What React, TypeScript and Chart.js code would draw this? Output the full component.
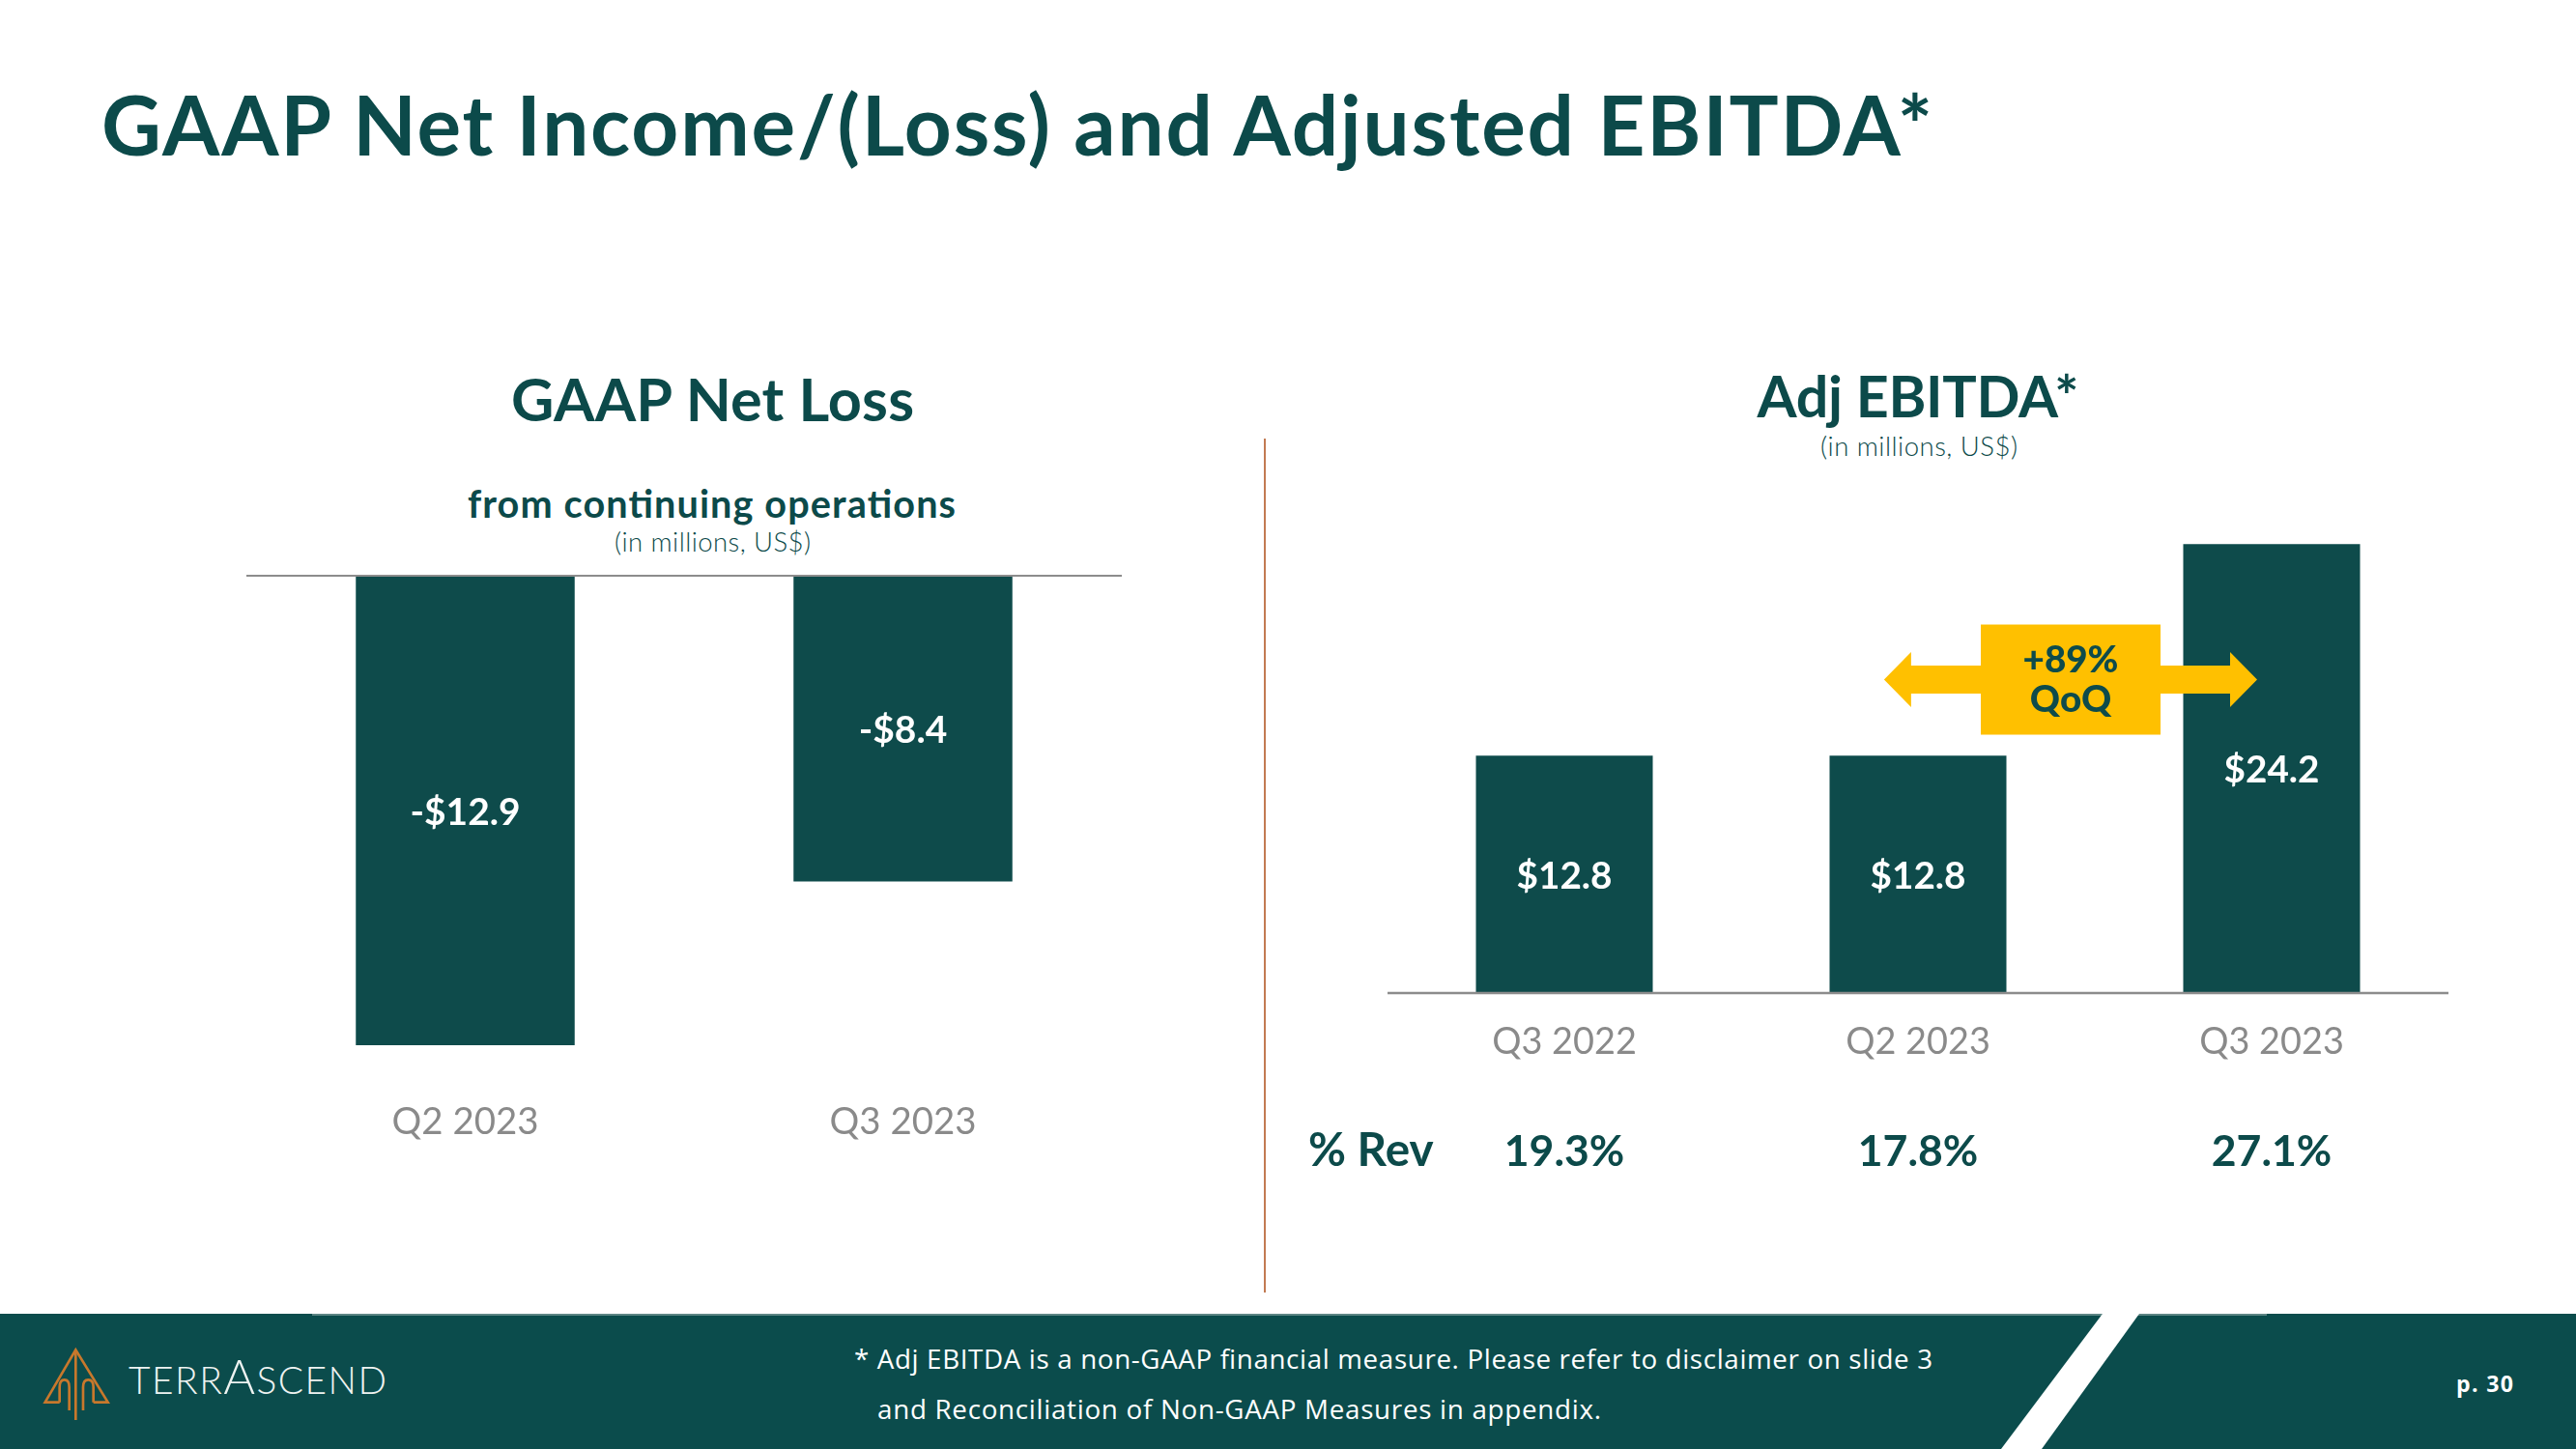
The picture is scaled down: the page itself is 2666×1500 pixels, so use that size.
import React, { useEffect, useRef } from 'react';
import { Chart, registerables } from 'chart.js';

Chart.register(...registerables);

// ---------- data ----------
const lossCategories = ['Q2 2023', 'Q3 2023'];
const lossValues = [-12.9, -8.4];
const ebitdaCategories = ['Q3 2022', 'Q2 2023', 'Q3 2023'];
const ebitdaValues = [12.8, 12.8, 24.2];
const revenueShare = ['19.3%', '17.8%', '27.1%'];
const qoqLines = ['+89%', 'QoQ'];

// ---------- styles ----------
const TEAL = '#0E4B4B';
const TITLE = '#0C4A4A';
const FOOTER = '#0B4C4C';
const GREY = '#8A8A8A';
const AXIS = '#8C8C8C';
const YELLOW = '#FFC000';
const RUST = '#C27A52';
const HEAD = 'Lato, "Open Sans", sans-serif';
const BODY = 'Lato, "Open Sans", sans-serif';
const NOTE = '"Open Sans", "Noto Sans", sans-serif';

let mctx: CanvasRenderingContext2D | null = null;
function textWidth(text: string, font: string): number {
  if (!mctx) mctx = document.createElement('canvas').getContext('2d');
  mctx!.font = font;
  return mctx!.measureText(text).width;
}
function fitSize(text: string, weight: number, family: string, target: number): number {
  return (100 * target) / textWidth(text, `${weight} 100px ${family}`);
}
function blendSize(text: string, weight: number, family: string, target: number, cap: number): number {
  return (fitSize(text, weight, family, target) + cap / 0.72) / 2;
}

const money = (v: number) => (v < 0 ? '-$' : '$') + Math.abs(v).toFixed(1);

function SText(props: {
  x: number; y: number; text: string; w: number; cap: number;
  weight?: number; family?: string; color?: string; anchor?: 'start' | 'middle' | 'end';
}) {
  const { x, y, text, w, cap, weight = 700, family = HEAD, color = TITLE, anchor = 'start' } = props;
  const fs = blendSize(text, weight, family, w, cap);
  return (
    <text x={x} y={y} fontFamily={family} fontWeight={weight} fontSize={fs} fill={color}
      textAnchor={anchor} textLength={w} lengthAdjust="spacing">{text}</text>
  );
}

// ---------- left chart ----------
function LossChart() {
  const ref = useRef<HTMLCanvasElement>(null);
  useEffect(() => {
    const tickSize = blendSize('Q2 2023', 400, BODY, 150, 28);
    const valSize = fitSize('-$12.9', 700, HEAD, 114);
    const plugin = {
      id: 'lossDecor',
      afterDatasetsDraw(chart: any) {
        const { ctx, chartArea, scales } = chart;
        ctx.save();
        const y0 = scales.y.getPixelForValue(0);
        ctx.strokeStyle = AXIS;
        ctx.lineWidth = 2;
        ctx.beginPath();
        ctx.moveTo(chartArea.left, y0);
        ctx.lineTo(chartArea.right, y0);
        ctx.stroke();
        ctx.fillStyle = '#FFFFFF';
        ctx.font = `700 ${valSize}px ${HEAD}`;
        ctx.textAlign = 'center';
        ctx.textBaseline = 'alphabetic';
        chart.getDatasetMeta(0).data.forEach((bar: any, i: number) => {
          const { x, y, base } = bar.getProps(['x', 'y', 'base'], true);
          ctx.fillText(money(lossValues[i]), x, (y + base) / 2 + valSize * 0.38);
        });
        ctx.restore();
      },
    };
    const chart = new Chart(ref.current!, {
      type: 'bar',
      data: {
        labels: lossCategories,
        datasets: [{
          data: lossValues, backgroundColor: TEAL, borderWidth: 0,
          barPercentage: 1, categoryPercentage: 0.5,
        }],
      },
      options: {
        responsive: false, animation: false,
        layout: { padding: { top: 6, left: 0, right: 0, bottom: 0 } },
        plugins: { legend: { display: false }, tooltip: { enabled: false } },
        scales: {
          x: {
            grid: { display: false, drawTicks: false },
            border: { display: false },
            ticks: { color: GREY, font: { family: BODY, size: tickSize, weight: 400 }, padding: 57 },
            afterFit: (s: any) => { s.height = 120; },
          },
          y: { display: false, min: -12.9, max: 0 },
        },
      },
      plugins: [plugin],
    } as any);
    return () => chart.destroy();
  }, []);
  return (
    <canvas ref={ref} width={906} height={612}
      style={{ position: 'absolute', left: 255, top: 590, width: 906, height: 612 }} />
  );
}

// ---------- right chart ----------
function EbitdaChart() {
  const ref = useRef<HTMLCanvasElement>(null);
  useEffect(() => {
    const tickSize = blendSize('Q3 2022', 400, BODY, 151, 27);
    const valSize = fitSize('$12.8', 700, HEAD, 99);
    const revSize = blendSize('19.3%', 700, HEAD, 113, 35);
    const revLabelSize = blendSize('% Rev', 700, HEAD, 127, 35);
    const qoqSize = fitSize('+89%', 900, HEAD, 99);
    const plugin = {
      id: 'ebitdaDecor',
      afterDatasetsDraw(chart: any) {
        const { ctx, chartArea, scales } = chart;
        ctx.save();
        const y0 = scales.y.getPixelForValue(0);
        ctx.strokeStyle = AXIS;
        ctx.lineWidth = 2.5;
        ctx.beginPath();
        ctx.moveTo(chartArea.left, y0);
        ctx.lineTo(chartArea.right, y0);
        ctx.stroke();

        const bars = chart.getDatasetMeta(0).data;
        ctx.fillStyle = '#FFFFFF';
        ctx.font = `700 ${valSize}px ${HEAD}`;
        ctx.textAlign = 'center';
        ctx.textBaseline = 'alphabetic';
        bars.forEach((bar: any, i: number) => {
          const { x, y, base } = bar.getProps(['x', 'y', 'base'], true);
          ctx.fillText(money(ebitdaValues[i]), x, (y + base) / 2 + valSize * 0.38);
        });

        // QoQ double arrow between the last two quarters
        const cw = (chartArea.right - chartArea.left) / ebitdaCategories.length;
        const x1 = bars[1].x;
        const x2 = bars[2].x;
        const yc = scales.y.getPixelForValue(16.9);
        const left = x1 - 0.096 * cw;
        const right = x2 - 0.041 * cw;
        const head = 28, hh = 28.5, sh = 14.5;
        ctx.fillStyle = YELLOW;
        ctx.beginPath();
        ctx.moveTo(left, yc);
        ctx.lineTo(left + head, yc - hh);
        ctx.lineTo(left + head, yc - sh);
        ctx.lineTo(right - head, yc - sh);
        ctx.lineTo(right - head, yc - hh);
        ctx.lineTo(right, yc);
        ctx.lineTo(right - head, yc + hh);
        ctx.lineTo(right - head, yc + sh);
        ctx.lineTo(left + head, yc + sh);
        ctx.lineTo(left + head, yc + hh);
        ctx.closePath();
        ctx.fill();
        const bx = (x1 + x2) / 2 - 25;
        ctx.fillRect(bx - 93, yc - 57, 186, 114);
        ctx.fillStyle = TEAL;
        ctx.font = `900 ${qoqSize}px ${HEAD}`;
        ctx.fillText(qoqLines[0], bx, yc - 8);
        ctx.fillText(qoqLines[1], bx, yc + 33);

        // % of revenue row
        ctx.fillStyle = TITLE;
        ctx.font = `700 ${revSize}px ${HEAD}`;
        bars.forEach((bar: any, i: number) => {
          ctx.fillText(revenueShare[i], bar.x, y0 + 179);
        });
        ctx.textAlign = 'left';
        ctx.font = `700 ${revLabelSize}px ${HEAD}`;
        ctx.fillText('% Rev', chartArea.left - 82, y0 + 179);
        ctx.restore();
      },
    };
    const chart = new Chart(ref.current!, {
      type: 'bar',
      data: {
        labels: ebitdaCategories,
        datasets: [{
          data: ebitdaValues, backgroundColor: TEAL, borderWidth: 0,
          barPercentage: 1, categoryPercentage: 0.5,
        }],
      },
      options: {
        responsive: false, animation: false,
        layout: { padding: { top: 0, left: 106, right: 0, bottom: 0 } },
        plugins: { legend: { display: false }, tooltip: { enabled: false } },
        scales: {
          x: {
            grid: { display: false, drawTicks: false },
            border: { display: false },
            ticks: { color: GREY, font: { family: BODY, size: tickSize, weight: 400 }, padding: 28 },
            afterFit: (s: any) => { s.height = 200; },
          },
          y: { display: false, min: 0, max: 25 },
        },
      },
      plugins: [plugin],
    } as any);
    return () => chart.destroy();
  }, []);
  return (
    <canvas ref={ref} width={1204} height={680}
      style={{ position: 'absolute', left: 1330, top: 548, width: 1204, height: 680 }} />
  );
}

// ---------- page ----------
export default function App() {
  const bigA = 36 / 0.72;
  const smallT = 28 / 0.72;
  return (
    <div style={{ position: 'absolute', left: 0, top: 0, width: 2666, height: 1500, overflow: 'hidden', background: '#FFFFFF' }}>
      <svg width={2666} height={1500} style={{ position: 'absolute', left: 0, top: 0 }}>
        <SText x={105} y={161} text="GAAP Net Income/(Loss) and Adjusted EBITDA*" w={1895} cap={59} />
        <SText x={737.5} y={436} text="GAAP Net Loss" w={417} cap={44} anchor="middle" />
        <SText x={736.5} y={536} text="from continuing operations" w={505} cap={27} anchor="middle" />
        <SText x={737.5} y={571} text="(in millions, US$)" w={203} cap={19} weight={300} family={BODY} anchor="middle" />
        <SText x={1985} y={432} text="Adj EBITDA*" w={333} cap={43} anchor="middle" />
        <SText x={1986} y={472} text="(in millions, US$)" w={204} cap={19} weight={300} family={BODY} anchor="middle" />

        <line x1={1309} y1={454} x2={1309} y2={1338} stroke={RUST} strokeWidth={2} />

        <rect x={0} y={1360} width={2666} height={140} fill={FOOTER} />
        <line x1={323} y1={1361} x2={2346} y2={1361} stroke="#5E8584" strokeWidth={2} />
        <polygon points="2176,1360 2214,1360 2113,1500 2071,1500" fill="#FFFFFF" />

        <g transform="translate(0,1360) scale(0.3333)" fill="none" stroke="#C8782C" strokeWidth={8} strokeLinejoin="miter">
          <polyline points="185,275 140,275 235,112 335,275 290,275" />
          <line x1={235} y1={112} x2={235} y2={330} />
          <path d="M185 275 L185 228 Q185 205 200 205 Q215 205 215 228 L215 300" />
          <path d="M290 275 L290 228 Q290 205 274 205 Q258 205 258 228 L258 300" />
        </g>
        <text x={133} y={1443} fontFamily={BODY} fontWeight={300} fontSize={smallT} fill="#EEF3F1"
          textLength={267} lengthAdjust="spacing">TERR<tspan fontSize={bigA}>A</tspan>SCEND</text>

        <SText x={884} y={1417} text="* Adj EBITDA is a non-GAAP financial measure. Please refer to disclaimer on slide 3"
          w={1116} cap={19} weight={400} family={NOTE} color="#FFFFFF" />
        <SText x={908} y={1469} text="and Reconciliation of Non-GAAP Measures in appendix."
          w={749} cap={19} weight={400} family={NOTE} color="#FFFFFF" />
        <SText x={2542} y={1441} text="p. 30" w={59} cap={15} weight={700} family={NOTE} color="#FFFFFF" />
      </svg>
      <LossChart />
      <EbitdaChart />
    </div>
  );
}
